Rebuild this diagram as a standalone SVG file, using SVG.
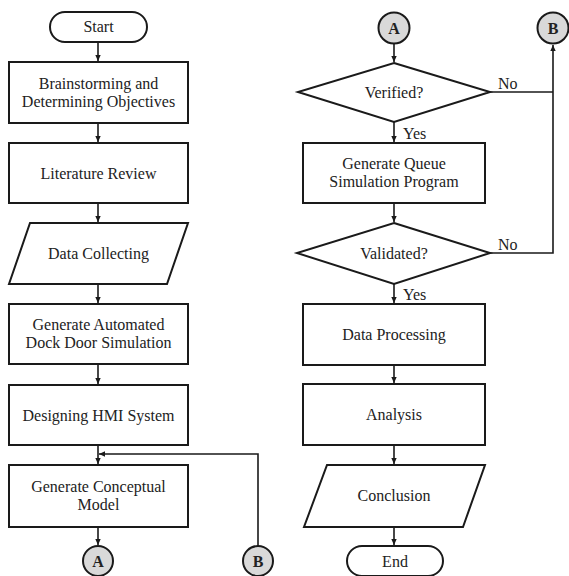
<svg xmlns="http://www.w3.org/2000/svg" width="569" height="576" viewBox="0 0 569 576">
<style>
.s{fill:#fff;stroke:#1a1a1a;stroke-width:2}
.c{fill:#d9d9d9;stroke:#1a1a1a;stroke-width:2}
.t{font-family:"Liberation Serif","Times New Roman",serif;font-size:16px;fill:#222;text-anchor:middle}
.l{font-family:"Liberation Serif","Times New Roman",serif;font-size:16px;fill:#222}
.b{font-family:"Liberation Serif","Times New Roman",serif;font-size:16px;font-weight:bold;fill:#222;text-anchor:middle}
.e{fill:none;stroke:#1a1a1a;stroke-width:1.6}
</style>
<defs>
<marker id="ah" markerUnits="userSpaceOnUse" markerWidth="7" markerHeight="7" refX="6" refY="3.5" orient="auto">
<path d="M0,0.8 L6,3.5 L0,6.2 Z" fill="#1a1a1a"/>
</marker>
</defs>
<g id="connectors">
<line class="e" x1="98" y1="42" x2="98" y2="61" marker-end="url(#ah)"/>
<line class="e" x1="98" y1="123" x2="98" y2="142" marker-end="url(#ah)"/>
<line class="e" x1="98" y1="203" x2="98" y2="222" marker-end="url(#ah)"/>
<line class="e" x1="98" y1="284" x2="98" y2="303" marker-end="url(#ah)"/>
<line class="e" x1="98" y1="364" x2="98" y2="384" marker-end="url(#ah)"/>
<line class="e" x1="98" y1="445" x2="98" y2="464" marker-end="url(#ah)"/>
<polyline class="e" points="258,546 258,454 99,454" marker-end="url(#ah)"/>
<line class="e" x1="98" y1="527" x2="98" y2="545" marker-end="url(#ah)"/>
<line class="e" x1="394" y1="44" x2="394" y2="62" marker-end="url(#ah)"/>
<line class="e" x1="394" y1="122" x2="394" y2="142" marker-end="url(#ah)"/>
<line class="e" x1="394" y1="203" x2="394" y2="222" marker-end="url(#ah)"/>
<line class="e" x1="394" y1="284" x2="394" y2="303" marker-end="url(#ah)"/>
<line class="e" x1="394" y1="365" x2="394" y2="383" marker-end="url(#ah)"/>
<line class="e" x1="394" y1="445" x2="394" y2="464" marker-end="url(#ah)"/>
<line class="e" x1="394" y1="527" x2="394" y2="545" marker-end="url(#ah)"/>
<line class="e" x1="490" y1="92" x2="553" y2="92"/>
<polyline class="e" points="490,253 553,253 553,45" marker-end="url(#ah)"/>
<text class="l" x="498" y="89">No</text>
<text class="l" x="498" y="250">No</text>
<text class="l" x="403" y="139">Yes</text>
<text class="l" x="403" y="300">Yes</text>
</g>
<g id="start"><rect class="s" x="50" y="12" width="97" height="30" rx="15"/><text class="t" x="98.5" y="32">Start</text></g>
<g id="brainstorm"><rect class="s" x="9" y="62" width="179" height="61"/><text class="t" x="98.5" y="89">Brainstorming and</text><text class="t" x="98.5" y="107">Determining Objectives</text></g>
<g id="literature"><rect class="s" x="9" y="143" width="179" height="60"/><text class="t" x="98.5" y="178.5">Literature Review</text></g>
<g id="data-collecting"><polygon class="s" points="30,223 188,223 167,284 9,284"/><text class="t" x="98.5" y="259">Data Collecting</text></g>
<g id="automated"><rect class="s" x="9" y="304" width="179" height="60"/><text class="t" x="98.5" y="330">Generate Automated</text><text class="t" x="98.5" y="348">Dock Door Simulation</text></g>
<g id="hmi"><rect class="s" x="9" y="385" width="179" height="60"/><text class="t" x="98.5" y="420.5">Designing HMI System</text></g>
<g id="conceptual"><rect class="s" x="9" y="465" width="179" height="62"/><text class="t" x="98.5" y="492">Generate Conceptual</text><text class="t" x="98.5" y="510">Model</text></g>
<g id="connA-bottom"><circle class="c" cx="98" cy="561" r="15"/><text class="b" x="98" y="567">A</text></g>
<g id="connB-bottom"><circle class="c" cx="258" cy="561" r="15"/><text class="b" x="258" y="567">B</text></g>
<g id="connA-top"><circle class="c" cx="394" cy="28" r="15.5"/><text class="b" x="394" y="34">A</text></g>
<g id="connB-top"><circle class="c" cx="553" cy="28" r="15.5"/><text class="b" x="553" y="34">B</text></g>
<g id="verified"><polygon class="s" points="394,63 490,92 394,122 298,92"/><text class="t" x="394" y="98">Verified?</text></g>
<g id="queue"><rect class="s" x="303" y="143" width="182" height="60"/><text class="t" x="394" y="169">Generate Queue</text><text class="t" x="394" y="187">Simulation Program</text></g>
<g id="validated"><polygon class="s" points="394,223 490,253 394,284 297,253"/><text class="t" x="394" y="259">Validated?</text></g>
<g id="processing"><rect class="s" x="303" y="304" width="182" height="61"/><text class="t" x="394" y="340">Data Processing</text></g>
<g id="analysis"><rect class="s" x="303" y="384" width="182" height="61"/><text class="t" x="394" y="420">Analysis</text></g>
<g id="conclusion"><polygon class="s" points="327,465 485,465 463,527 304,527"/><text class="t" x="394" y="501">Conclusion</text></g>
<g id="end"><rect class="s" x="347" y="546" width="96" height="30" rx="15"/><text class="t" x="395" y="567">End</text></g>
</svg>
